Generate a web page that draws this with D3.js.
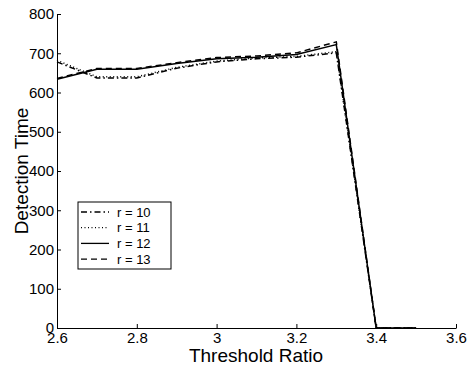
<!DOCTYPE html>
<html><head><meta charset="utf-8">
<script src="https://cdn.jsdelivr.net/npm/d3@7"></script>
<style>body{margin:0;background:#fff}svg{display:block}text{font-family:"Liberation Sans",Arial,sans-serif}</style>
</head><body><svg id="c" width="467" height="369"></svg>
<script>
const xs = [2.6, 2.7, 2.8, 2.9, 3.0, 3.1, 3.2, 3.3, 3.4, 3.5];
const r10 = [678, 637, 637, 662, 678, 686, 690, 701, 0, 0];
const r11 = [682, 640, 640, 664, 680, 688, 692, 704, 0, 0];
const r12 = [634, 659, 659, 674, 686, 690, 697, 722, 0, 0];
const r13 = [636, 661, 661, 676, 689, 693, 701, 729, 0, 0];
const seriesNames = ["r = 10", "r = 11", "r = 12", "r = 13"];
const xTicks = [2.6, 2.8, 3.0, 3.2, 3.4, 3.6];
const xTickLabels = ["2.6", "2.8", "3", "3.2", "3.4", "3.6"];
const yTicks = [0, 100, 200, 300, 400, 500, 600, 700, 800];

const svg = d3.select("#c");
const x = d3.scaleLinear().domain([2.6, 3.6]).range([57, 456]);
const y = d3.scaleLinear().domain([0, 800]).range([328, 14]);

const dashes = ["6,3,1.5,3", "1,2.5", null, "6,4"];
const data = [r10, r11, r12, r13];

const line = d3.line().x((d, i) => x(xs[i])).y(d => y(d));
data.forEach((s, k) => {
  svg.append("path").attr("d", line(s)).attr("fill", "none")
    .attr("stroke", "#000").attr("stroke-width", 1.5)
    .attr("stroke-dasharray", dashes[k]);
});

const xAxis = d3.axisBottom(x).tickValues(xTicks).tickFormat((d, i) => xTickLabels[i]).tickSizeInner(-4).tickSizeOuter(0).tickPadding(3);
const gx = svg.append("g").attr("transform", "translate(0,328)").call(xAxis);
const yAxis = d3.axisLeft(y).tickValues(yTicks).tickSizeInner(-4).tickSizeOuter(0).tickPadding(3);
const gy = svg.append("g").attr("transform", "translate(57,0)").call(yAxis);
[gx, gy].forEach(g => {
  g.selectAll("path").attr("stroke", "#000").attr("stroke-width", 1);
  g.selectAll("line").attr("stroke", "#000");
  g.selectAll("text").attr("font-size", 15).attr("fill", "#000").style("font-family", '"Liberation Sans",Arial,sans-serif');
});
gx.selectAll("text").attr("dy", "0.8em");

svg.append("text").attr("x", 256).attr("y", 362).attr("text-anchor", "middle")
  .attr("font-size", 19).text("Threshold Ratio");
svg.append("text").attr("transform", "translate(28,171) rotate(-90)").attr("text-anchor", "middle")
  .attr("font-size", 19).text("Detection Time");

const lg = svg.append("g");
lg.append("rect").attr("x", 78).attr("y", 202).attr("width", 93).attr("height", 67)
  .attr("fill", "#fff").attr("stroke", "#000").attr("stroke-width", 1);
seriesNames.forEach((n, k) => {
  const yy = 212 + k * 15.7;
  lg.append("line").attr("x1", 81).attr("x2", 109).attr("y1", yy).attr("y2", yy)
    .attr("stroke", "#000").attr("stroke-width", 1.3).attr("stroke-dasharray", dashes[k]);
  lg.append("text").attr("x", 117).attr("y", yy + 4.5).attr("font-size", 13).text(n);
});
</script></body></html>
